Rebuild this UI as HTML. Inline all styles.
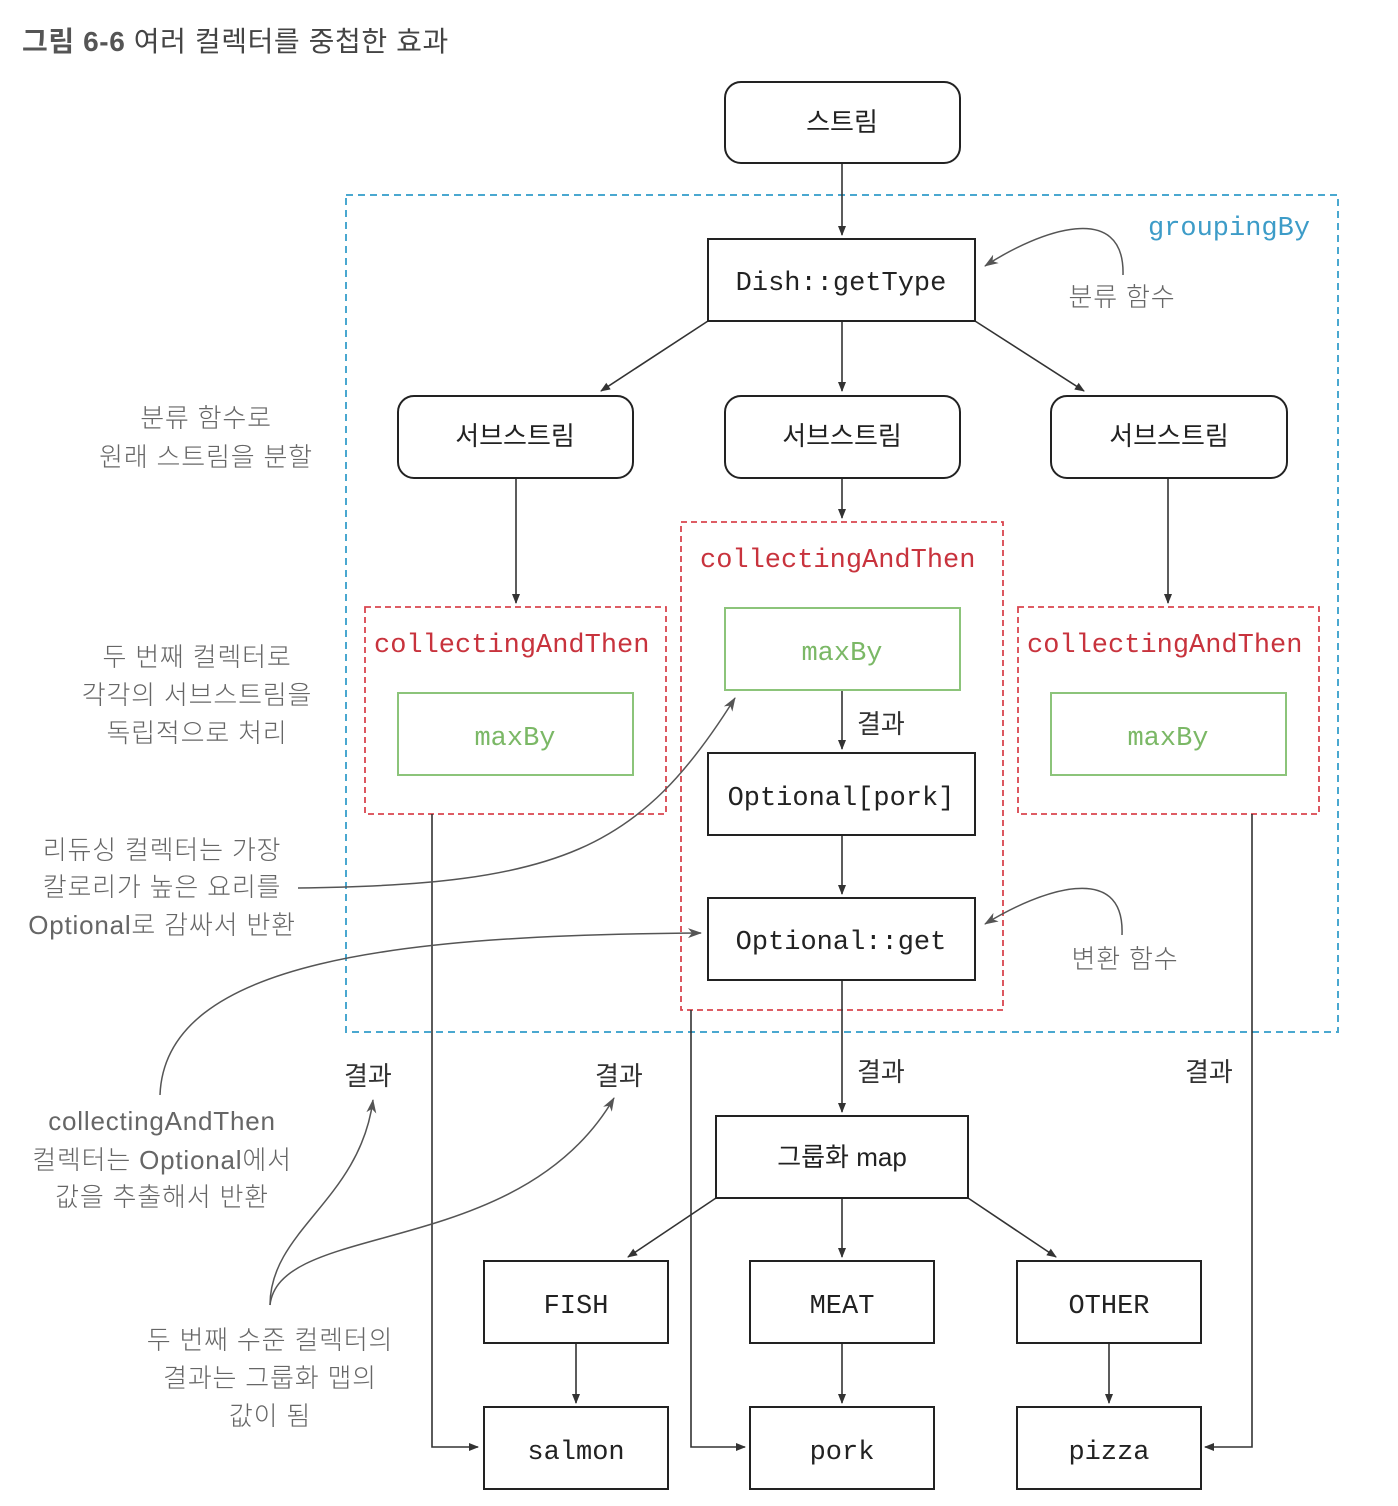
<!DOCTYPE html>
<html><head><meta charset="utf-8"><style>
html,body{margin:0;padding:0;background:#fff;}
svg{display:block;}
.k{font-family:"Liberation Sans","Noto Sans CJK KR",sans-serif;}
.m{font-family:"Liberation Mono","DejaVu Sans Mono",monospace;}
.g{fill:#666;font-size:26px;font-weight:300;letter-spacing:0.8px;}
.bx{fill:#fff;stroke:#222;stroke-width:2;}
.ln{stroke:#333;stroke-width:1.6;fill:none;}
</style></head><body>
<svg width="1398" height="1506" viewBox="0 0 1398 1506" xmlns="http://www.w3.org/2000/svg">
<defs>
<marker id="a" markerWidth="10" markerHeight="10" refX="9" refY="5" orient="auto" markerUnits="userSpaceOnUse"><path d="M0,1 L10,5 L0,9 Z" fill="#333"/></marker>
<marker id="b" markerWidth="14" markerHeight="10" refX="13" refY="5" orient="auto" markerUnits="userSpaceOnUse"><path d="M0,0 L14,5 L0,10 L4,5 Z" fill="#555"/></marker>
</defs>
<text x="22" y="51" class="k" font-size="28" fill="#444" letter-spacing="0.6"><tspan font-weight="bold" fill="#555">그림 6-6</tspan> 여러 컬렉터를 중첩한 효과</text>

<rect x="346" y="195" width="992" height="837" fill="none" stroke="#4aa8d0" stroke-width="2" stroke-dasharray="7,5"/>
<text x="1148" y="235" class="m" font-size="27" fill="#3d9cc8">groupingBy</text>

<rect x="365" y="607" width="301" height="207" fill="none" stroke="#d9454f" stroke-width="1.8" stroke-dasharray="6,4"/>
<rect x="681" y="522" width="322" height="488" fill="none" stroke="#d9454f" stroke-width="1.8" stroke-dasharray="6,4"/>
<rect x="1018" y="607" width="301" height="207" fill="none" stroke="#d9454f" stroke-width="1.8" stroke-dasharray="6,4"/>
<g class="m" font-size="27" fill="#c8333d">
<text x="374" y="652">collectingAndThen</text>
<text x="700" y="567">collectingAndThen</text>
<text x="1027" y="652">collectingAndThen</text>
</g>

<g class="ln" marker-end="url(#a)">
<line x1="842" y1="163" x2="842" y2="235"/>
<line x1="708" y1="321" x2="601" y2="391"/>
<line x1="842" y1="321" x2="842" y2="391"/>
<line x1="975" y1="321" x2="1084" y2="391"/>
<line x1="516" y1="478" x2="516" y2="603"/>
<line x1="842" y1="478" x2="842" y2="518"/>
<line x1="1168" y1="478" x2="1168" y2="603"/>
<line x1="842" y1="690" x2="842" y2="749"/>
<line x1="842" y1="835" x2="842" y2="894"/>
<line x1="842" y1="980" x2="842" y2="1112"/>
<line x1="716" y1="1198" x2="628" y2="1257"/>
<line x1="842" y1="1198" x2="842" y2="1257"/>
<line x1="968" y1="1198" x2="1056" y2="1257"/>
<line x1="576" y1="1343" x2="576" y2="1403"/>
<line x1="842" y1="1343" x2="842" y2="1403"/>
<line x1="1109" y1="1343" x2="1109" y2="1403"/>
<polyline points="432,814 432,1447 478,1447"/>
<polyline points="691,1010 691,1447 745,1447"/>
<polyline points="1252,814 1252,1447 1205,1447"/>
</g>

<g stroke="#555" stroke-width="1.5" fill="none" marker-end="url(#b)">
<path d="M1123,275 C1125,200 1040,230 985,266"/>
<path d="M1122,935 C1125,860 1040,890 985,924"/>
<path d="M298,888 C560,885 640,850 735,698"/>
<path d="M160,1095 C165,960 400,935 701,933"/>
<path d="M270,1305 C270,1230 360,1200 373,1100"/>
<path d="M270,1305 C280,1220 520,1260 614,1098"/>
</g>

<rect x="725" y="82" width="235" height="81" rx="16" class="bx"/>
<rect x="708" y="239" width="267" height="82" class="bx"/>
<rect x="398" y="396" width="235" height="82" rx="16" class="bx"/>
<rect x="725" y="396" width="235" height="82" rx="16" class="bx"/>
<rect x="1051" y="396" width="236" height="82" rx="16" class="bx"/>
<rect x="398" y="693" width="235" height="82" fill="#fff" stroke="#8cc47a" stroke-width="2"/>
<rect x="725" y="608" width="235" height="82" fill="#fff" stroke="#8cc47a" stroke-width="2"/>
<rect x="1051" y="693" width="235" height="82" fill="#fff" stroke="#8cc47a" stroke-width="2"/>
<rect x="708" y="753" width="267" height="82" class="bx"/>
<rect x="708" y="898" width="267" height="82" class="bx"/>
<rect x="716" y="1116" width="252" height="82" class="bx"/>
<rect x="484" y="1261" width="184" height="82" class="bx"/>
<rect x="750" y="1261" width="184" height="82" class="bx"/>
<rect x="1017" y="1261" width="184" height="82" class="bx"/>
<rect x="484" y="1407" width="184" height="82" class="bx"/>
<rect x="750" y="1407" width="184" height="82" class="bx"/>
<rect x="1017" y="1407" width="184" height="82" class="bx"/>

<g class="k" font-size="26" fill="#222" text-anchor="middle">
<text x="842" y="131">스트림</text>
<text x="515" y="445">서브스트림</text>
<text x="842" y="445">서브스트림</text>
<text x="1169" y="445">서브스트림</text>
<text x="842" y="1166">그룹화 map</text>
</g>
<g class="m" font-size="27" fill="#222" text-anchor="middle">
<text x="841" y="290">Dish::getType</text>
<text x="841" y="805">Optional[pork]</text>
<text x="841" y="949">Optional::get</text>
<text x="576" y="1313">FISH</text>
<text x="842" y="1313">MEAT</text>
<text x="1109" y="1313">OTHER</text>
<text x="576" y="1459">salmon</text>
<text x="842" y="1459">pork</text>
<text x="1109" y="1459">pizza</text>
</g>
<g class="m" font-size="27" fill="#7bb866" text-anchor="middle">
<text x="515" y="745">maxBy</text>
<text x="842" y="660">maxBy</text>
<text x="1168" y="745">maxBy</text>
</g>

<g class="k" font-size="26" fill="#333">
<text x="857" y="733">결과</text>
<text x="344" y="1085">결과</text>
<text x="595" y="1085">결과</text>
<text x="857" y="1081">결과</text>
<text x="1185" y="1081">결과</text>
</g>

<g class="k g" text-anchor="middle">
<text x="1122" y="306">분류 함수</text>
<text x="1125" y="968">변환 함수</text>
<text x="206" y="427">분류 함수로</text>
<text x="206" y="466">원래 스트림을 분할</text>
<text x="197" y="666">두 번째 컬렉터로</text>
<text x="197" y="704">각각의 서브스트림을</text>
<text x="197" y="742">독립적으로 처리</text>
<text x="162" y="859">리듀싱 컬렉터는 가장</text>
<text x="162" y="896">칼로리가 높은 요리를</text>
<text x="162" y="934">Optional로 감싸서 반환</text>
<text x="162" y="1130">collectingAndThen</text>
<text x="162" y="1169">컬렉터는 Optional에서</text>
<text x="162" y="1206">값을 추출해서 반환</text>
<text x="270" y="1349">두 번째 수준 컬렉터의</text>
<text x="270" y="1387">결과는 그룹화 맵의</text>
<text x="270" y="1425">값이 됨</text>
</g>
</svg>
</body></html>
